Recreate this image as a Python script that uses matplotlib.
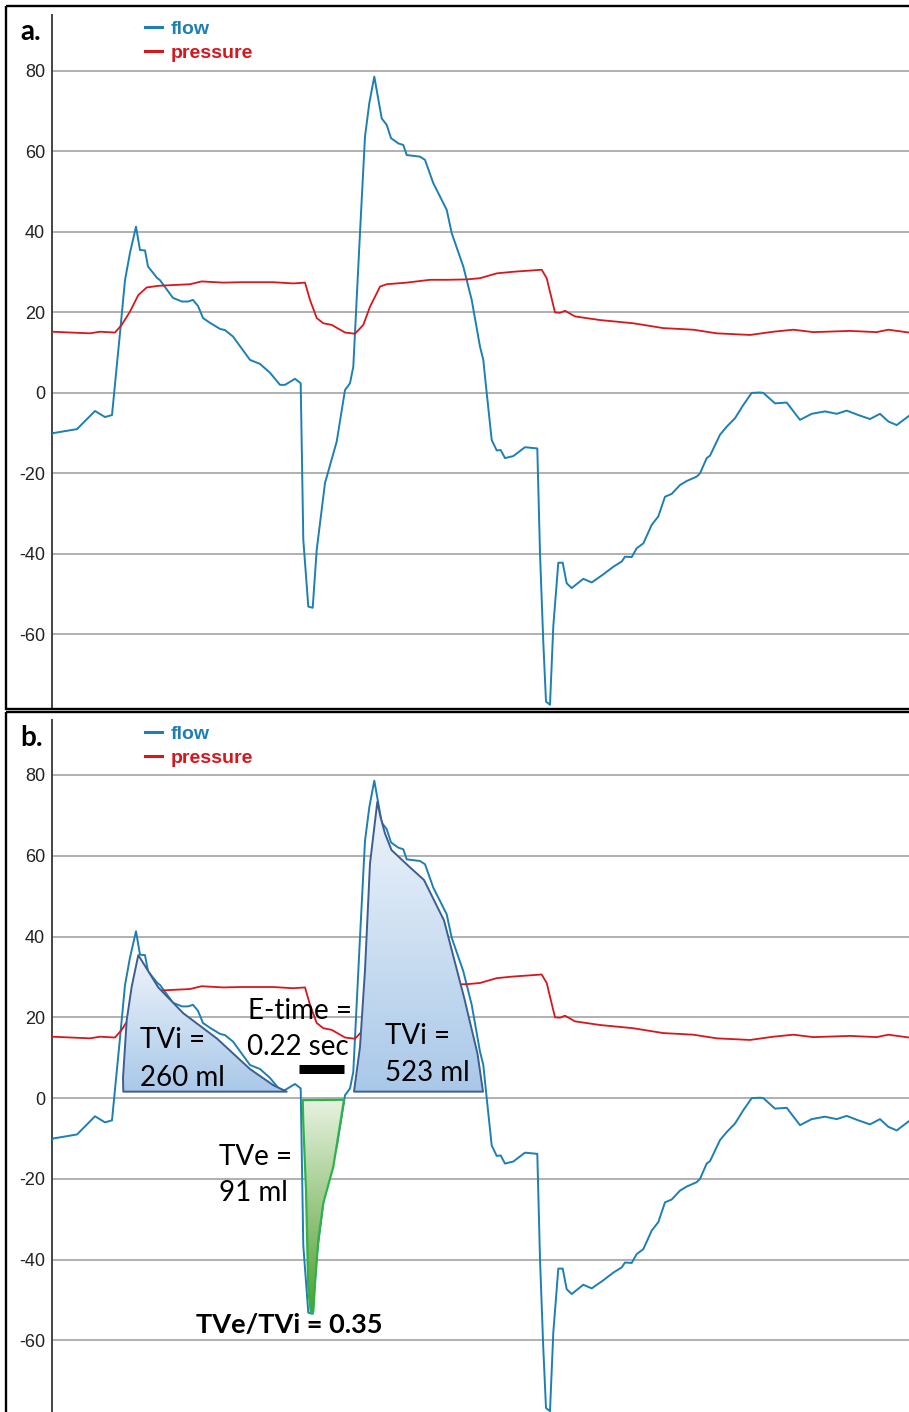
import numpy as np
import matplotlib
matplotlib.use("Agg")
import matplotlib.pyplot as plt
from matplotlib.patches import Polygon, Rectangle
from matplotlib.colors import LinearSegmentedColormap
from matplotlib.transforms import Affine2D

# ---------------- data (time in samples, ~4.9 ms per sample) ----------------
t_flow = [0, 1, 25, 43, 53, 60, 68, 73, 78, 84,
          88, 93, 96, 105, 108, 121, 130, 136, 141, 146,
          151, 158, 168, 173, 181, 198, 208, 218, 228, 233,
          243, 248.7, 251.3, 256.3, 260.7, 264.7, 273, 284.7, 293, 298,
          301.3, 308, 313, 317.3, 322.3, 329.7, 334.7, 339, 346.3, 351.3,
          354.7, 368, 373, 381.3, 388, 394.7, 399.7, 411.3, 419.7, 428,
          431.3, 434.7, 439.7, 444.7, 448.7, 453, 461.3, 473, 485.3, 488,
          491.3, 494, 498, 501.3, 506.3, 510.7, 514.7, 519.7, 531.3, 539.7,
          551.3, 561.3, 569.7, 573, 579.7, 584.7, 591.3, 599.7, 606.3, 613,
          619.7, 628, 634.7, 644.7, 648, 654.7, 658, 668, 674.7, 683,
          691.3, 699.7, 708, 711.3, 723, 734.7, 748, 759.7, 773, 784.7,
          794.7, 806.3, 818, 828, 836.3, 844.7, 857]
flow = [-10.4, -10.0, -9.0, -4.5, -6.0, -5.5, 14.9, 28.0, 34.8, 41.3,
        35.5, 35.4, 31.4, 28.6, 28.0, 23.6, 22.7, 22.7, 23.1, 21.6,
        18.6, 17.4, 15.9, 15.6, 14.0, 8.2, 7.2, 5.0, 2.0, 2.0,
        3.5, 2.4, -36.5, -53.1, -53.4, -39.0, -22.4, -12.1, 0.7, 2.4,
        6.5, 39.8, 63.7, 72.0, 78.6, 68.2, 66.6, 63.3, 62.0, 61.6,
        59.1, 58.7, 57.9, 52.1, 48.8, 45.5, 39.7, 31.4, 23.1, 11.5,
        8.2, 0.0, -11.7, -14.3, -14.2, -16.2, -15.7, -13.5, -13.8, -39.8,
        -62.0, -76.7, -77.5, -58.0, -42.2, -42.2, -47.3, -48.5, -46.2, -47.1,
        -45.1, -43.2, -41.9, -40.7, -40.8, -38.6, -37.4, -32.8, -30.7, -25.8,
        -25.1, -22.9, -21.9, -20.8, -20.0, -16.2, -15.6, -10.4, -8.4, -6.3,
        -3.0, 0.0, 0.1, 0.0, -2.6, -2.4, -6.7, -5.2, -4.6, -5.2,
        -4.4, -5.5, -6.5, -5.2, -7.1, -8.0, -5.7]

t_press = [0, 38, 48, 63, 69.7, 78, 86.3, 94.7, 106.3, 121.3,
           138, 149.7, 171.3, 188, 221.3, 241.3, 253, 258, 264.7, 271.3,
           279.7, 293, 303, 311.3, 318, 328, 334.7, 354.7, 378, 394.7,
           414.7, 428, 444.7, 461.3, 489.7, 494.7, 503, 508, 513, 523,
           548, 581.3, 611.3, 641.3, 664.7, 698, 721.3, 741.3, 761.3, 798,
           824.7, 836.3, 857]
pressure = [15.2, 14.8, 15.2, 15.0, 16.9, 20.2, 24.3, 26.2, 26.6, 26.8,
            27.0, 27.7, 27.4, 27.5, 27.5, 27.2, 27.4, 23.1, 18.6, 17.3,
            16.9, 15.0, 14.7, 16.9, 21.4, 26.4, 27.0, 27.4, 28.1, 28.1,
            28.2, 28.5, 29.7, 30.1, 30.6, 28.5, 20.0, 19.9, 20.4, 19.0,
            18.1, 17.3, 16.1, 15.7, 14.8, 14.4, 15.2, 15.7, 15.1, 15.4,
            15.1, 15.7, 15.0]

# annotated areas (panel b)
tvi1_t = [86.3, 106.3, 131.3, 164.7, 198, 221.3, 234.7, 71.3, 71.0, 74.7, 79.7]
tvi1_v = [35.4, 27.4, 21.0, 14.8, 7.2, 3.2, 1.6, 1.6, 5.0, 19.3, 27.6]
tvi2_t = [325.3, 328.5, 333, 339.5, 359, 372, 382, 392, 412, 425.5, 431,
          302, 308, 313, 318]
tvi2_v = [73.3, 69.6, 65.5, 61.4, 56.9, 54.0, 49.0, 44.0, 25.0, 11.0, 1.6,
          1.6, 12.7, 31.7, 58.1]
tve_t = [250.7, 292, 281.3, 271.3, 266.3, 263, 261.3, 259, 256.3, 254, 251.3]
tve_v = [-0.5, -0.4, -17.0, -26.0, -35.1, -45.9, -52.9, -53.3, -47.5, -22.8, -6.3]
etime_start = 247
etime_len = 45          # 0.22 s
etime_level = 7.3

yticks = [-60, -40, -20, 0, 20, 40, 60, 80]

FLOW_C = "#1d7fb3"
PRESS_C = "#d8161b"

W, H = 909, 1412
fig = plt.figure(figsize=(W / 100, H / 100), dpi=100)
fig.patch.set_facecolor("white")
PX = Affine2D().scale(1 / W, -1 / H).translate(0, 1) + fig.transFigure


def gradient_poly(ax, tx, vy, top_c, bot_c, edge, lw):
    verts = list(zip(tx, vy))
    poly = Polygon(verts, closed=True, facecolor="none", edgecolor=edge,
                   lw=lw, zorder=5, joinstyle="round")
    ax.add_patch(poly)
    cmap = LinearSegmentedColormap.from_list("g", [bot_c, top_c])
    grad = np.linspace(0, 1, 256).reshape(-1, 1)
    im = ax.imshow(grad, extent=[min(tx), max(tx), min(vy), max(vy)],
                   origin="lower", cmap=cmap, aspect="auto", zorder=4,
                   interpolation="bilinear")
    im.set_clip_path(poly)


def make_panel(rect, ylim, label, label_y, leg_top):
    ax = fig.add_axes(rect)
    lf, = ax.plot(t_flow, flow, color=FLOW_C, lw=1.4, zorder=3, label="flow")
    lp, = ax.plot(t_press, pressure, color=PRESS_C, lw=1.3, zorder=3, label="pressure")
    ax.set_xlim(0, 857)
    ax.set_ylim(*ylim)
    ax.set_yticks(yticks)
    ax.set_yticklabels([str(v) for v in yticks], family="Liberation Sans",
                       fontsize=13, color="#222222")
    ax.set_xticks([])
    ax.tick_params(axis="y", length=0, pad=5)
    ax.grid(axis="y", color="#b0b0b0", lw=1.4)
    ax.set_axisbelow(True)
    for s in ["top", "right", "bottom"]:
        ax.spines[s].set_visible(False)
    ax.spines["left"].set_color("#444444")
    ax.spines["left"].set_linewidth(1.4)
    ax.patch.set_alpha(0)
    leg = ax.legend(handles=[lf, lp], loc="upper left", bbox_to_anchor=(145, leg_top),
                    bbox_transform=PX, frameon=False, borderpad=0, borderaxespad=0,
                    handlelength=0.88, handletextpad=0.42, labelspacing=0.36,
                    labelcolor="linecolor",
                    prop={"family": "Liberation Sans", "weight": "bold", "size": 14})
    for h in leg.legend_handles:
        h.set_linewidth(2.2)
    fig.text(20, label_y, label, transform=PX, fontsize=20, fontweight="bold",
             family="Lato", va="center", ha="left")
    return ax


ax_a = make_panel([52 / W, 1 - 708 / H, 857 / W, 693 / H], (-78.3, 93.9), "a.", 32, 20)
ax_b = make_panel([52 / W, 0, 857 / W, 692 / H], (-77.7, 93.6), "b.", 738, 725)

# panel b annotations
gradient_poly(ax_b, tvi1_t, tvi1_v, "#eef4fb", "#a9c8e8", "#3b5e93", 1.4)
gradient_poly(ax_b, tvi2_t, tvi2_v, "#eef4fb", "#a9c8e8", "#3b5e93", 1.4)
gradient_poly(ax_b, tve_t, tve_v, "#e8f2e0", "#4f9e2f", "#2db34a", 1.6)
ax_b.plot([etime_start, etime_start + etime_len], [etime_level, etime_level],
          color="black", lw=6.5, solid_capstyle="butt", zorder=6)

txt = dict(family="Lato", fontsize=20, color="black", va="center", ha="left", zorder=7)
ax_b.text(88, 14.4, "TVi =", **txt)
ax_b.text(88, 5.0, "260 ml", **txt)
ax_b.text(196, 21.6, "E-time =", **txt)
ax_b.text(195, 12.6, "0.22 sec", **txt)
ax_b.text(333, 15.3, "TVi =", **txt)
ax_b.text(333, 6.2, "523 ml", **txt)
ax_b.text(167, -14.6, "TVe =", **txt)
ax_b.text(167, -23.5, "91 ml", **txt)
txt_bold = dict(txt, fontsize=19.5, fontweight="bold")
ax_b.text(144, -56.2, "TVe/TVi = 0.35", **txt_bold)
ax_b.set_xlim(0, 857)
ax_b.set_ylim(-77.7, 93.6)

# panel borders
fig.add_artist(Rectangle((6, 6), 910, 703, transform=PX, fill=False,
                         edgecolor="black", lw=1.7, zorder=10))
fig.add_artist(Rectangle((6, 711.5), 910, 720, transform=PX, fill=False,
                         edgecolor="black", lw=1.7, zorder=10))

fig.savefig("out.png", dpi=100, facecolor="white")
